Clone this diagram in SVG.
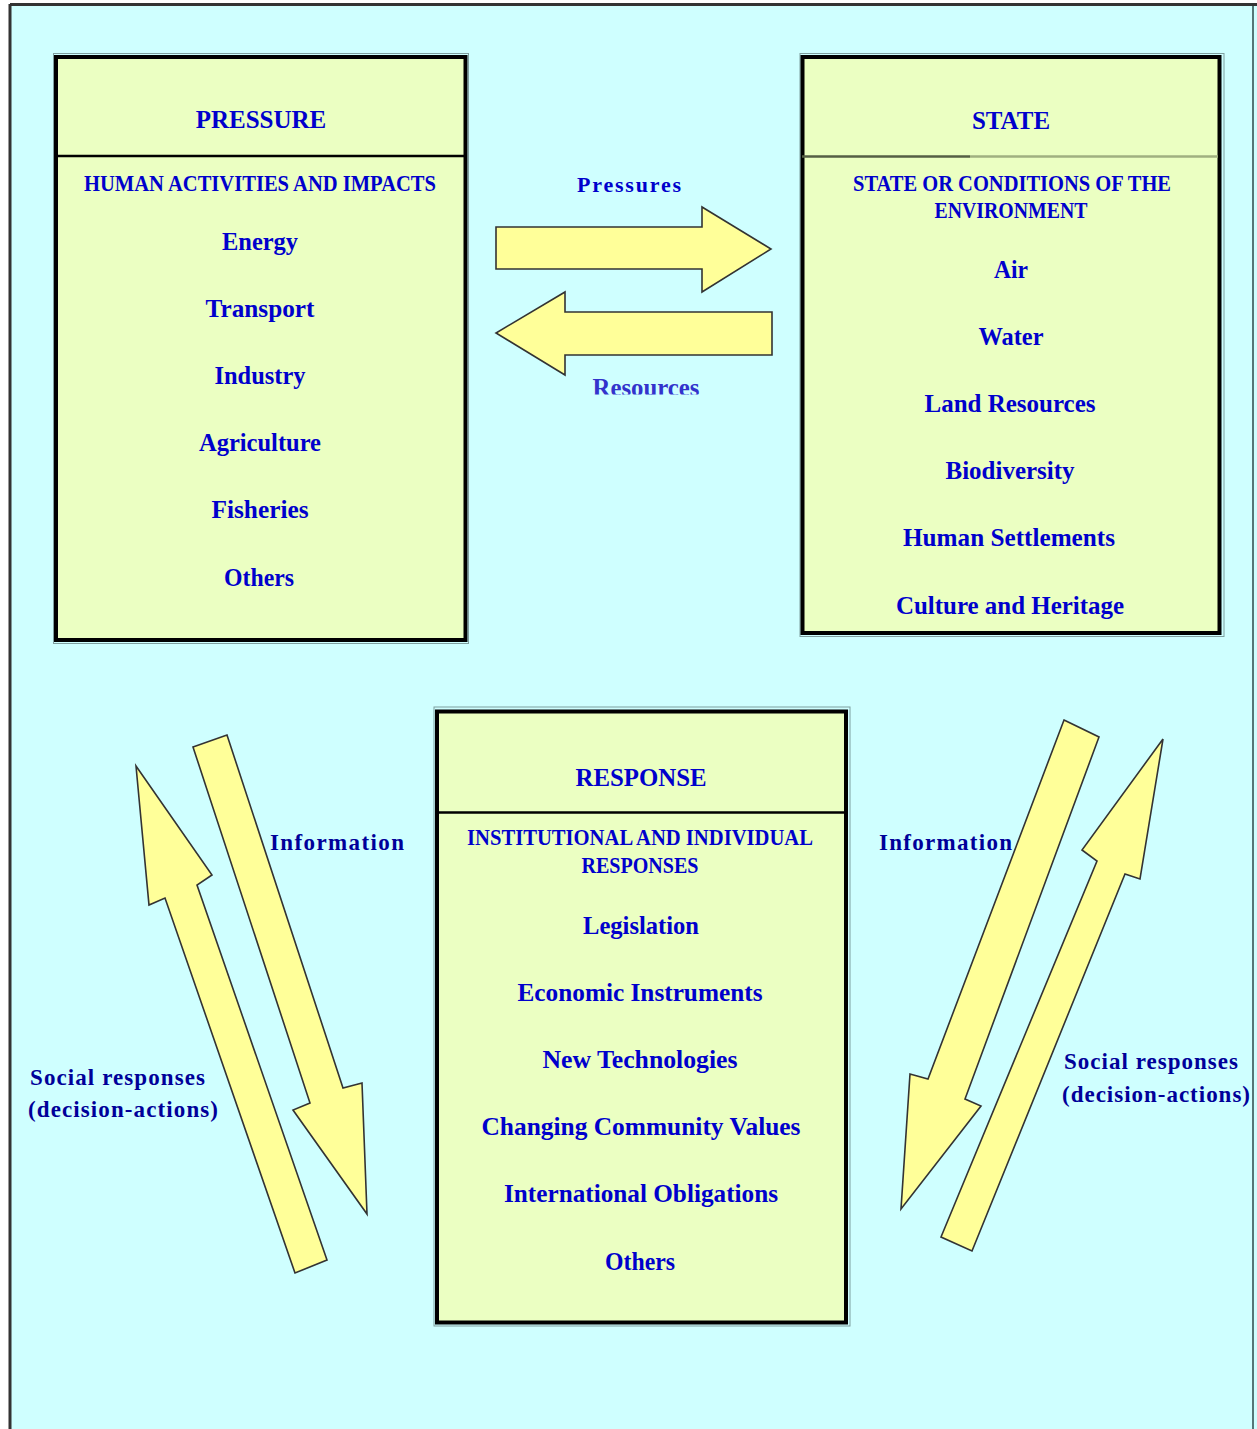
<svg xmlns="http://www.w3.org/2000/svg" width="1257" height="1429" viewBox="0 0 1257 1429">
<style>
.t{font-family:"Liberation Serif","Times New Roman",serif;font-weight:bold;text-anchor:middle;fill:#0000cc}
.title{font-size:25px}
.sub{font-size:24px}
.item{font-size:26px}
.lab{font-family:"Liberation Serif","Times New Roman",serif;font-weight:bold;font-size:23px;fill:#000099}
.box{fill:#ebffc2;stroke:#000;stroke-width:4}
.boxo{fill:none;stroke:#7f9f9f;stroke-width:1}
.div{stroke:#000;stroke-width:2.5}
.arr{fill:#ffff99;stroke:#333;stroke-width:1.6;stroke-linejoin:miter}
</style>
<defs>
<clipPath id="resClip"><rect x="580" y="360" width="140" height="34.5"/></clipPath>
</defs>
<rect x="0" y="0" width="1257" height="1429" fill="#ffffff"/>
<rect x="10" y="5" width="1257" height="1430" fill="#cfffff"/>
<line x1="10" y1="4.5" x2="1257" y2="4.5" stroke="#333" stroke-width="3"/>
<line x1="10" y1="4" x2="10" y2="1429" stroke="#333" stroke-width="3"/>
<line x1="1253" y1="6" x2="1253" y2="1429" stroke="#557777" stroke-width="2"/>

<g id="pressure">
<rect class="boxo" x="53.5" y="53.5" width="415" height="590"/>
<rect class="box" x="56" y="57" width="409.5" height="583"/>
<line class="div" x1="56" y1="156" x2="465" y2="156"/>
<text class="t title" x="261" y="128">PRESSURE</text>
<text class="t sub" x="260" y="191" textLength="352" lengthAdjust="spacingAndGlyphs">HUMAN ACTIVITIES AND IMPACTS</text>
<text class="t item" x="260" y="250" textLength="76" lengthAdjust="spacingAndGlyphs">Energy</text>
<text class="t item" x="260" y="317" textLength="109" lengthAdjust="spacingAndGlyphs">Transport</text>
<text class="t item" x="260" y="384" textLength="91" lengthAdjust="spacingAndGlyphs">Industry</text>
<text class="t item" x="260" y="451" textLength="122" lengthAdjust="spacingAndGlyphs">Agriculture</text>
<text class="t item" x="260" y="518" textLength="97" lengthAdjust="spacingAndGlyphs">Fisheries</text>
<text class="t item" x="259" y="586" textLength="70" lengthAdjust="spacingAndGlyphs">Others</text>
</g>

<g id="state">
<rect class="boxo" x="800" y="53.5" width="424" height="583"/>
<rect class="box" x="802.5" y="57" width="417" height="576"/>
<line x1="802" y1="156.5" x2="970" y2="156.5" stroke="#555f44" stroke-width="2.5"/>
<line x1="970" y1="156.5" x2="1218" y2="156.5" stroke="#a0b080" stroke-width="2.5"/>
<text class="t title" x="1011" y="129" textLength="78" lengthAdjust="spacingAndGlyphs">STATE</text>
<text class="t sub" x="1012" y="191" textLength="318" lengthAdjust="spacingAndGlyphs">STATE OR CONDITIONS OF THE</text>
<text class="t sub" x="1011" y="218" textLength="153" lengthAdjust="spacingAndGlyphs">ENVIRONMENT</text>
<text class="t item" x="1011" y="278" textLength="34" lengthAdjust="spacingAndGlyphs">Air</text>
<text class="t item" x="1011" y="345" textLength="65" lengthAdjust="spacingAndGlyphs">Water</text>
<text class="t item" x="1010" y="412" textLength="171" lengthAdjust="spacingAndGlyphs">Land Resources</text>
<text class="t item" x="1010" y="479" textLength="129" lengthAdjust="spacingAndGlyphs">Biodiversity</text>
<text class="t item" x="1009" y="546" textLength="212" lengthAdjust="spacingAndGlyphs">Human Settlements</text>
<text class="t item" x="1010" y="614" textLength="228" lengthAdjust="spacingAndGlyphs">Culture and Heritage</text>
</g>

<g id="response">
<rect class="boxo" x="434" y="707" width="416" height="619"/>
<rect class="box" x="437" y="711.5" width="409" height="611"/>
<line class="div" x1="437" y1="812.5" x2="846" y2="812.5"/>
<text class="t title" x="641" y="786" textLength="131" lengthAdjust="spacingAndGlyphs">RESPONSE</text>
<text class="t sub" x="640" y="845" textLength="346" lengthAdjust="spacingAndGlyphs">INSTITUTIONAL AND INDIVIDUAL</text>
<text class="t sub" x="640" y="873" textLength="117" lengthAdjust="spacingAndGlyphs">RESPONSES</text>
<text class="t item" x="641" y="934" textLength="116" lengthAdjust="spacingAndGlyphs">Legislation</text>
<text class="t item" x="640" y="1001" textLength="245" lengthAdjust="spacingAndGlyphs">Economic Instruments</text>
<text class="t item" x="640" y="1068" textLength="195" lengthAdjust="spacingAndGlyphs">New Technologies</text>
<text class="t item" x="641" y="1135" textLength="319" lengthAdjust="spacingAndGlyphs">Changing Community Values</text>
<text class="t item" x="641" y="1202" textLength="274" lengthAdjust="spacingAndGlyphs">International Obligations</text>
<text class="t item" x="640" y="1270" textLength="70" lengthAdjust="spacingAndGlyphs">Others</text>
</g>

<g id="connectors">
<g id="arrow-pressures">
<polygon class="arr" points="496,227 702,227 702,207 771,249 702,292 702,269 496,269"/>
<text class="t" x="629" y="192" style="font-size:22px" textLength="104" lengthAdjust="spacing">Pressures</text>
</g>
<g id="arrow-resources">
<polygon class="arr" points="772,312 565,312 565,292 496,333 565,375 565,355 772,355"/>
<text class="t" x="646" y="396" style="font-size:26px;fill:#3333cc" textLength="107" lengthAdjust="spacingAndGlyphs" clip-path="url(#resClip)">Resources</text>
</g>
<g id="arrow-info-left">
<polygon class="arr" points="193,747 227,735 343,1088 362,1083 367,1214 293,1110 310,1103"/>
<text class="lab" x="270" y="850" textLength="134" lengthAdjust="spacing">Information</text>
</g>
<g id="arrow-social-left">
<polygon class="arr" points="136,766 212,875 197,885 327,1260 295,1273 165,898 149,905"/>
<text class="lab" x="30" y="1085" textLength="175" lengthAdjust="spacing">Social responses</text>
<text class="lab" x="28" y="1117" textLength="190" lengthAdjust="spacing">(decision-actions)</text>
</g>
<g id="arrow-info-right">
<polygon class="arr" points="1064,720 1099,737 965,1099 981,1106 901,1209 910,1074 928,1079"/>
<text class="lab" x="879" y="850" textLength="133" lengthAdjust="spacing">Information</text>
</g>
<g id="arrow-social-right">
<polygon class="arr" points="1163,739 1140,879 1125,874 972,1251 941,1237 1097,861 1082,850"/>
<text class="lab" x="1064" y="1069" textLength="174" lengthAdjust="spacing">Social responses</text>
<text class="lab" x="1062" y="1102" textLength="188" lengthAdjust="spacing">(decision-actions)</text>
</g>
</g>
</svg>
